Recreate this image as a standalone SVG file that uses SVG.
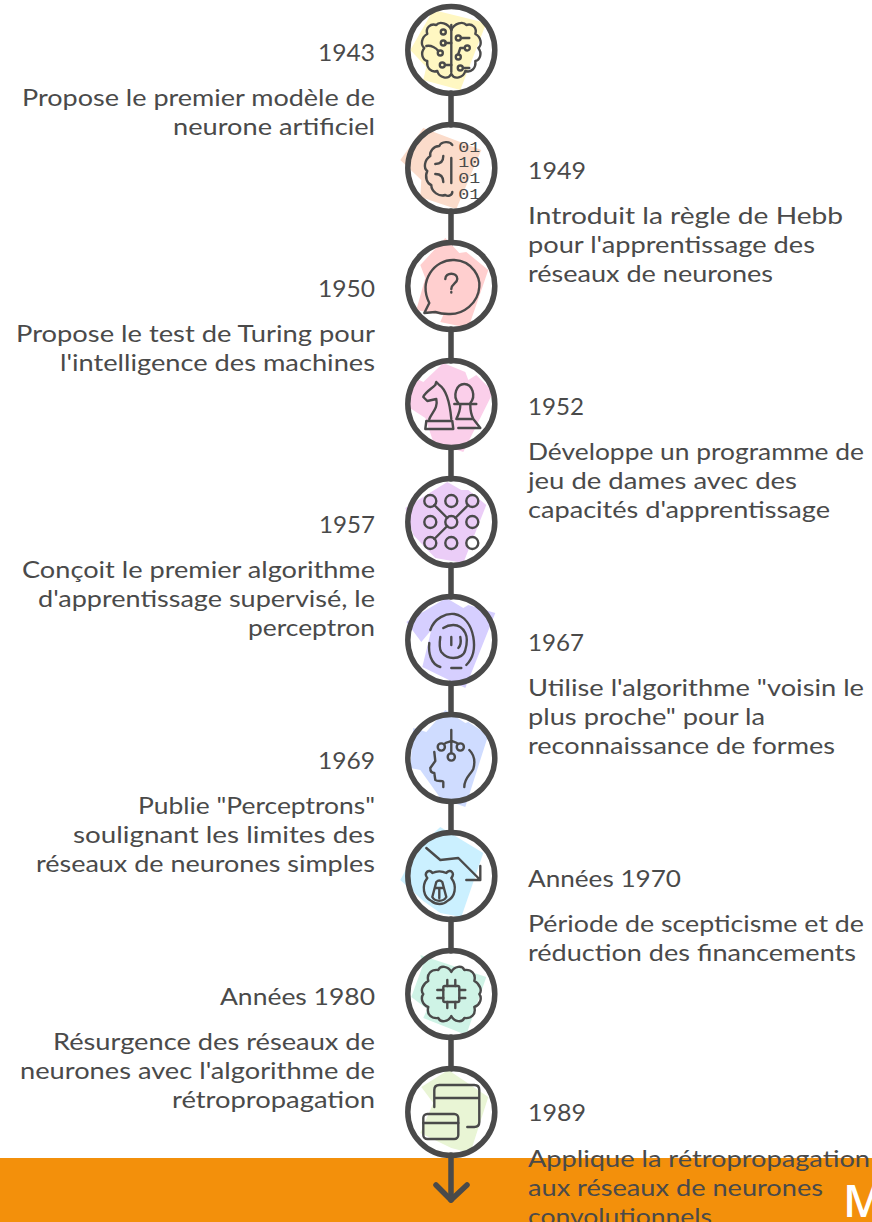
<svg xmlns="http://www.w3.org/2000/svg" width="872" height="1222" viewBox="0 0 872 1222">
<style>
.t{font-family:"Lato","Noto Sans",sans-serif;font-size:24px;fill:#4a4a4a}
.ring{fill:none;stroke:#4a4a4a;stroke-width:5.5}
.i{fill:none;stroke:#4a4a4a;stroke-width:2.4;stroke-linecap:round;stroke-linejoin:round}
.d{font-family:"Liberation Mono",monospace;font-size:14px;fill:#4a4a4a}
.c{fill:none;stroke:#4a4a4a;stroke-width:5.5;stroke-linecap:round;stroke-linejoin:round}
</style>
<defs>
<path id="lobe" d="M0,-20C-3,-27-12,-29-15,-25C-21,-27-26,-22-24,-16C-30,-13-31,-5-27,-2C-31,3-29,10-24,11C-25,18-20,23-14,21C-12,28-3,30 0,24"/>
</defs>
<rect x="0" y="1158" width="872" height="64" fill="#f3900b"/>
<text x="843" y="1217" font-family="Open Sans,sans-serif" font-size="45" font-weight="600" fill="#fff">M</text>
<g id="connectors">
<path class="c" d="M451,93V125M451,211V243M451,329V361M451,447V479M451,565V597M451,683V715M451,801V833M451,919V951M451,1037V1069M451,1155V1200"/>
<path class="c" d="M436,1185L451,1200L467,1185"/>
</g>
<g id="n1">
<g transform="translate(451.3,50)">
<polygon fill="#fff7c2" points="-18,-40 35,-27 9,40 -28,30 -25,17 -41,0"/>
<circle class="ring" r="43.5"/>
<g class="i">
<path d="M0,-25V22"/><use href="#lobe"/><use href="#lobe" transform="scale(-1,1)"/>
<circle cx="-8" cy="-18" r="2.5"/><circle cx="-8" cy="-7" r="2.5"/><circle cx="-11" cy="3" r="2.5"/><circle cx="-9" cy="15" r="2.5"/>
<circle cx="7" cy="-12" r="2.5"/><circle cx="16" cy="-2" r="2.5"/><circle cx="7" cy="7" r="2.5"/><circle cx="9" cy="18" r="2.5"/>
<path d="M-6,-7H0M-6,15H0M10,-12H18M13,-2H9L7,4M12,18H18M-25,-4C-20,-5-15,-2-13,1"/>
</g>
</g>
<text class="t" x="318" y="61" textLength="57" lengthAdjust="spacingAndGlyphs">1943</text>
<text class="t" x="22" y="106" textLength="353" lengthAdjust="spacingAndGlyphs">Propose le premier modèle de</text>
<text class="t" x="173" y="135" textLength="202" lengthAdjust="spacingAndGlyphs">neurone artificiel</text>
</g>
<g id="n2">
<g transform="translate(451.3,168)">
<polygon fill="#fbdccb" points="-28,-40 30,-18 5,41 -31,29 -30,12 -51,-8"/>
<circle class="ring" r="43.5"/>
<path class="i" d="M1,-23C-1,-27-10,-27-12,-22C-18,-22-22,-16-21,-12C-27,-8-28,0-24,3C-27,9-24,16-20,17C-20,24-12,29-6,27C-3,29 1,27 1,24M0,-10V15M-16,-4C-10,-4-8,-8-8,-12M-16,6C-10,6-8,10-8,14"/>
<text class="d" x="7" y="-16.3" textLength="22" lengthAdjust="spacingAndGlyphs">01</text>
<text class="d" x="7" y="-0.6" textLength="22" lengthAdjust="spacingAndGlyphs">10</text>
<text class="d" x="7" y="15.1" textLength="22" lengthAdjust="spacingAndGlyphs">01</text>
<text class="d" x="7" y="30.8" textLength="22" lengthAdjust="spacingAndGlyphs">01</text>
</g>
<text class="t" x="528" y="179" textLength="58" lengthAdjust="spacingAndGlyphs">1949</text>
<text class="t" x="528" y="224" textLength="315" lengthAdjust="spacingAndGlyphs">Introduit la règle de Hebb</text>
<text class="t" x="528" y="253" textLength="287" lengthAdjust="spacingAndGlyphs">pour l'apprentissage des</text>
<text class="t" x="528" y="282" textLength="245" lengthAdjust="spacingAndGlyphs">réseaux de neurones</text>
</g>
<g id="n3">
<g transform="translate(451.3,286)">
<polygon fill="#ffcfcf" points="-6,-48 8,-33 15,-34 37,-16 17,42 -11,36 -8,29 -35,24 -26,-8 -31,-21"/>
<circle class="ring" r="43.5"/>
<path class="i" d="M-27,27L-22,17C-33,-5-17,-27 3,-26C22,-25 29,-8 28,1C27,17 12,29-3,28C-10,28-16,26-16,26ZM-6,-7C-6,-14 6,-14 6,-7C6,-3 0,-2 0,3M0,6V6.5"/>
</g>
<text class="t" x="318" y="297" textLength="57" lengthAdjust="spacingAndGlyphs">1950</text>
<text class="t" x="16" y="342" textLength="359" lengthAdjust="spacingAndGlyphs">Propose le test de Turing pour</text>
<text class="t" x="60" y="371" textLength="315" lengthAdjust="spacingAndGlyphs">l'intelligence des machines</text>
</g>
<g id="n4">
<g transform="translate(451.3,404)">
<polygon fill="#fbcfea" points="-8,-41 14,-32 17,-24 25,-29 42,-12 12,48 -18,38 -26,14 -46,1 -38,-27 -28,-22"/>
<circle class="ring" r="43.5"/>
<path class="i" d="M-25,17H1L2,25H-26ZM-22,15C-19,8-13,4-15,-5L-24,-3L-28,-7C-26,-12-20,-15-16,-19L-15,-22L-12,-19C-3,-13-1,4 0,15"/>
<path class="i" d="M7,-1C1,-8 5,-20 13,-20C21,-20 25,-8 19,-1M3,0H25M9,1C9,6 7,11 5,15H22C20,11 19,6 19,1M7,24H29L22,15"/>
</g>
<text class="t" x="528" y="415" textLength="56" lengthAdjust="spacingAndGlyphs">1952</text>
<text class="t" x="528" y="460" textLength="336" lengthAdjust="spacingAndGlyphs">Développe un programme de</text>
<text class="t" x="528" y="489" textLength="269" lengthAdjust="spacingAndGlyphs">jeu de dames avec des</text>
<text class="t" x="528" y="518" textLength="302" lengthAdjust="spacingAndGlyphs">capacités d'apprentissage</text>
</g>
<g id="n5">
<g transform="translate(451.3,522)">
<polygon fill="#ebcdf7" points="-4,-40 10,-32 17,-32 35,-17 12,41 -16,36 -38,13 -46,-14"/>
<circle class="ring" r="43.5"/>
<g class="i">
<circle cx="-21" cy="-21" r="6"/><circle cx="0" cy="-21" r="6"/><circle cx="21" cy="-21" r="6"/>
<circle cx="-21" cy="0" r="6"/><circle cx="0" cy="0" r="6"/><circle cx="21" cy="0" r="6"/>
<circle cx="-21" cy="21" r="6"/><circle cx="0" cy="21" r="6"/><circle cx="21" cy="21" r="6" fill="#fff"/>
<path d="M-17,-17L-4,-4M17,-17L4,-4M-17,17L-4,4"/>
</g>
</g>
<text class="t" x="319" y="533" textLength="56" lengthAdjust="spacingAndGlyphs">1957</text>
<text class="t" x="22" y="578" textLength="353" lengthAdjust="spacingAndGlyphs">Conçoit le premier algorithme</text>
<text class="t" x="38" y="607" textLength="337" lengthAdjust="spacingAndGlyphs">d'apprentissage supervisé, le</text>
<text class="t" x="248" y="636" textLength="127" lengthAdjust="spacingAndGlyphs">perceptron</text>
</g>
<g id="n6">
<g transform="translate(451.3,640)">
<polygon fill="#d6cfff" points="-5,-42 12,-32 17,-35 44,-27 14,48 -29,27 -20,-10 -30,2 -45,-18"/>
<circle class="ring" r="43.5"/>
<path class="i" d="M-21,-10C-17,-22-5,-27 3,-26C14,-24 20,-14 22,-3C24,8 22,18 15,25M10,28H0M-22,3C-23,12-21,24-11,27M-11,-3C-12,4-12,9-10,12C-6,17-2,18 2,18C8,18 13,15 14,10C16,3 16,-3 14,-7C11,-13 6,-15 2,-15C-2,-15-5,-14-8,-12M0,-3V5M9,-3C10,2 9,6 7,8"/>
</g>
<text class="t" x="528" y="651" textLength="56" lengthAdjust="spacingAndGlyphs">1967</text>
<text class="t" x="528" y="696" textLength="336" lengthAdjust="spacingAndGlyphs">Utilise l'algorithme "voisin le</text>
<text class="t" x="528" y="725" textLength="237" lengthAdjust="spacingAndGlyphs">plus proche" pour la</text>
<text class="t" x="528" y="754" textLength="307" lengthAdjust="spacingAndGlyphs">reconnaissance de formes</text>
</g>
<g id="n7">
<g transform="translate(451.3,758)">
<polygon fill="#cfdcff" points="-6,-48 14,-35 17,-36 37,-23 14,49 -11,40 -31,12 -41,10 -38,-30 -25,-26"/>
<circle class="ring" r="43.5"/>
<g class="i">
<circle cx="-10" cy="-11" r="3.6"/><circle cx="9" cy="-11" r="3.6"/><circle cx="0" cy="-1" r="3.6"/>
<path d="M0,-28V-5M-7,-14C-5,-16-2,-16 0,-17C3,-16 5,-16 7,-14M-17,-6L-16,3L-21,10C-21,14-19,15-17,15L-16,22C-14,24-8,22-8,24L-8,29M18,-8C23,-3 24,4 22,11C19,17 13,20 13,29"/>
</g>
</g>
<text class="t" x="318" y="769" textLength="57" lengthAdjust="spacingAndGlyphs">1969</text>
<text class="t" x="138" y="814" textLength="237" lengthAdjust="spacingAndGlyphs">Publie "Perceptrons"</text>
<text class="t" x="73" y="843" textLength="302" lengthAdjust="spacingAndGlyphs">soulignant les limites des</text>
<text class="t" x="36" y="872" textLength="339" lengthAdjust="spacingAndGlyphs">réseaux de neurones simples</text>
</g>
<g id="n8">
<g transform="translate(451.3,876)">
<polygon fill="#cbf0ff" points="-11,-49 32,-23 10,41 -11,37 -28,25 -51,4 -34,-28"/>
<circle class="ring" r="43.5"/>
<path class="i" d="M-25,-28L-11,-16L7,-18L29,4V-10M29,4H15"/>
<path class="i" d="M-19,-3C-22,-8-28,-3-24,2C-30,10-28,21-20,25C-15,29-8,29-4,25C4,21 6,10 0,2C4,-3-1,-8-5,-3C-9,-5-15,-5-19,-3ZM-15,6L-19,21C-16,26-8,26-5,21L-9,6C-11,4-13,4-15,6ZM-16,12H-8M-12,12V22"/>
</g>
<text class="t" x="528" y="887" textLength="153" lengthAdjust="spacingAndGlyphs">Années 1970</text>
<text class="t" x="528" y="932" textLength="336" lengthAdjust="spacingAndGlyphs">Période de scepticisme et de</text>
<text class="t" x="528" y="961" textLength="328" lengthAdjust="spacingAndGlyphs">réduction des financements</text>
</g>
<g id="n9">
<g transform="translate(451.3,994)">
<polygon fill="#cff3e6" points="-31,-39 35,-17 15,41 -28,24 -24,15 -40,3 -28,-30"/>
<circle class="ring" r="43.5"/>
<g class="i">
<rect x="-8" y="-8" width="16" height="16" rx="1.5"/>
<path d="M-4,-8V-14M4,-8V-14M-4,8V14M4,8V14M-8,-4H-14M-8,4H-14M8,-4H14M8,4H14"/>
<path d="M0,-22C-3,-28-11,-29-13,-24C-20,-25-25,-20-23,-13C-29,-10-31,-3-28,0C-31,4-29,11-23,13C-25,20-20,25-13,24C-11,29-3,28 0,22C3,28 11,29 13,24C20,25 25,20 23,13C29,11 31,4 28,0C31,-3 29,-10 23,-13C25,-20 20,-25 13,-24C11,-29 3,-28 0,-22Z"/>
</g>
</g>
<text class="t" x="220" y="1005" textLength="155" lengthAdjust="spacingAndGlyphs">Années 1980</text>
<text class="t" x="53" y="1050" textLength="322" lengthAdjust="spacingAndGlyphs">Résurgence des réseaux de</text>
<text class="t" x="20" y="1079" textLength="355" lengthAdjust="spacingAndGlyphs">neurones avec l'algorithme de</text>
<text class="t" x="172" y="1108" textLength="203" lengthAdjust="spacingAndGlyphs">rétropropagation</text>
</g>
<g id="n10">
<g transform="translate(451.3,1112)">
<polygon fill="#e9f5d5" points="-30,-25 -3,-42 37,-15 19,41 0,36 -31,21 -18,-9"/>
<circle class="ring" r="43.5"/>
<g class="i">
<path d="M-17,-5V-22Q-17,-27-12,-27H23Q28,-27 28,-22V10Q28,15 23,15H16M-17,-14H28"/>
<rect x="-28" y="2" width="35" height="25" rx="4"/>
<path d="M-28,11H7"/>
</g>
</g>
<text class="t" x="528" y="1121" textLength="58" lengthAdjust="spacingAndGlyphs">1989</text>
<text class="t" x="528" y="1167" textLength="342" lengthAdjust="spacingAndGlyphs">Applique la rétropropagation</text>
<text class="t" x="528" y="1196" textLength="295" lengthAdjust="spacingAndGlyphs">aux réseaux de neurones</text>
<text class="t" x="528" y="1225" textLength="184" lengthAdjust="spacingAndGlyphs">convolutionnels</text>
</g>
</svg>
